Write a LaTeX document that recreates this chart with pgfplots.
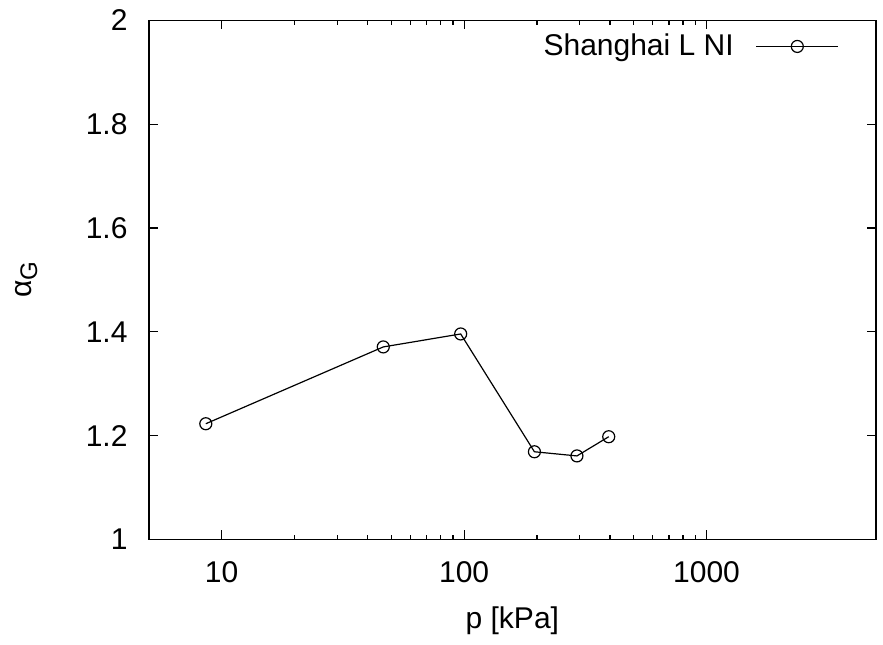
\documentclass[border=0pt]{standalone}
\usepackage{fontspec}
\setmainfont{Liberation Sans}
\usepackage{pgfplots}
\pgfplotsset{compat=1.18}
\begin{document}
\fontsize{15bp}{17bp}\selectfont
\begin{tikzpicture}
\begin{axis}[
  scale only axis,
  width=363.65bp, height=259.5bp,
  xmode=log,
  xmin=5, xmax=5000,
  ymin=1, ymax=2,
  ytick={1,1.2,1.4,1.6,1.8,2},
  yticklabels={1,1.2,1.4,1.6,1.8,2},
  xtick={10,100,1000},
  xticklabels={10,100,1000},
  minor ytick={},
  tick align=inside,
  major tick length=4.5bp,
  minor tick length=2.4bp,
  every tick/.style={black, line width=0.6bp},
  axis line style={line width=0.85bp},
  /pgf/number format/assume math mode=true,
  tick label style={font=\fontsize{15bp}{17bp}\selectfont},
  xticklabel style={anchor=center, yshift=-16.15bp},
  yticklabel style={xshift=-5.4bp},
  xlabel={p [kPa]},
  ylabel={α\raisebox{-0.35ex}{\fontsize{12bp}{12bp}\selectfont G}},
  label style={font=\fontsize{15bp}{17bp}\selectfont},
  xlabel style={at={(axis description cs:0.5,-0.1566)}, anchor=center},
  ylabel style={at={(axis description cs:-0.168,0.5)}, anchor=center},
  legend plot pos=right,
  legend style={draw=none, fill=none, at={(axis description cs:0.949,0.950)}, anchor=east,
    inner sep=0pt, outer sep=0pt, font=\fontsize{15bp}{17bp}\selectfont,
    nodes={inner sep=0pt}, column sep=11bp},
  legend image code/.code={\draw[mark repeat=2,mark phase=2,#1] plot coordinates {(0bp,0bp) (20.5bp,0bp) (41bp,0bp)};},
]
\addplot[black, line width=0.6bp, mark=o, mark size=3bp, mark options={line width=0.6bp}]
  coordinates {(8.6,1.223) (46.4,1.371) (96.8,1.396) (195,1.169) (292,1.161) (395,1.198)};
\addlegendentry{Shanghai L NI}
\end{axis}
\path (current axis.south west) ++(-74.35bp,-52.65bp) coordinate (bbsw);
\path (current axis.south west) ++(367.15bp,267.85bp) coordinate (bbne);
\useasboundingbox (bbsw) rectangle (bbne);
\end{tikzpicture}
\end{document}
